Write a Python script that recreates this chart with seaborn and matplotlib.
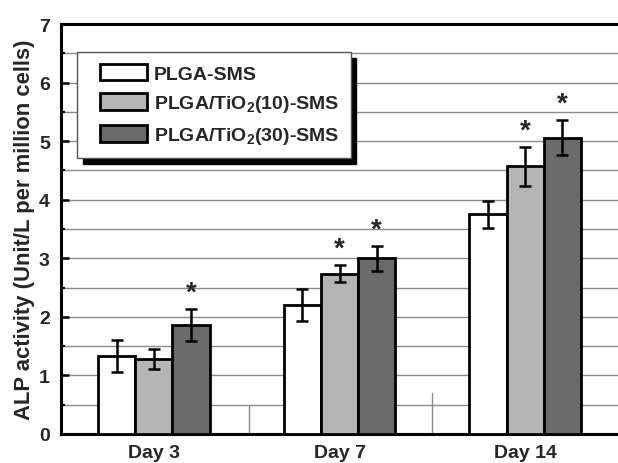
import matplotlib
matplotlib.use("Agg")
import matplotlib.pyplot as plt
import seaborn as sns
import pandas as pd
import numpy as np
from matplotlib.ticker import MultipleLocator
from matplotlib.legend_handler import HandlerPatch
from matplotlib.patches import Rectangle

days = ["Day 3", "Day 7", "Day 14"]
groups = ["PLGA-SMS", "PLGA/TiO$_2$(10)-SMS", "PLGA/TiO$_2$(30)-SMS"]
plga = [1.33, 2.20, 3.75]
tio10 = [1.28, 2.74, 4.57]
tio30 = [1.86, 3.00, 5.06]
plga_err = [0.27, 0.27, 0.23]
tio10_err = [0.17, 0.15, 0.33]
tio30_err = [0.28, 0.21, 0.30]
star_plga = [False, False, False]
star_tio10 = [False, True, True]
star_tio30 = [True, True, True]
colors = ["#ffffff", "#b5b5b5", "#6b6b6b"]

sns.set_theme(style="white")
plt.rcParams["font.family"] = ["Liberation Sans", "DejaVu Sans"]
plt.rcParams["font.weight"] = "bold"
plt.rcParams["mathtext.fontset"] = "custom"
plt.rcParams["mathtext.rm"] = "Liberation Sans:bold"
plt.rcParams["mathtext.it"] = "Liberation Sans:bold"
plt.rcParams["mathtext.bf"] = "Liberation Sans:bold"
plt.rcParams["mathtext.default"] = "rm"

rows = []
vals = [plga, tio10, tio30]
errs = [plga_err, tio10_err, tio30_err]
stars = [star_plga, star_tio10, star_tio30]
for g, v in zip(groups, vals):
    for d, x in zip(days, v):
        rows.append({"day": d, "group": g, "value": x})
df = pd.DataFrame(rows)

fig = plt.figure(figsize=(6.18, 4.64), dpi=100)
ax = fig.add_axes([61/618, 29/464, 1 - 61/618, 410/464])

sns.barplot(data=df, x="day", y="value", hue="group", order=days, hue_order=groups,
            palette=colors, errorbar=None, width=0.6, edgecolor="black",
            linewidth=2, saturation=1, ax=ax, zorder=3)

bars = [p for p in ax.patches if p.get_height() > 0][:9]
for gi in range(3):
    for di in range(3):
        p = bars[gi * 3 + di]
        cx = p.get_x() + p.get_width() / 2
        h = p.get_height()
        e = errs[gi][di]
        ax.errorbar(cx, h, yerr=e, fmt="none", ecolor="black", elinewidth=1.8,
                    capsize=4, capthick=1.8, zorder=4)
        if stars[gi][di]:
            ax.text(cx, h + e + 0.28, "*", ha="center", va="center",
                    fontsize=20, fontweight="bold", zorder=5)

ax.set_xlim(-0.5, 2.5)
ax.set_ylim(0, 7)
ax.yaxis.set_major_locator(MultipleLocator(1))
ax.yaxis.set_minor_locator(MultipleLocator(0.5))
ax.grid(axis="y", which="both", color="#8a8a8a", linewidth=1.0, zorder=0)
ax.set_axisbelow(True)
ax.axvline(0.51, ymin=0, ymax=0.5/7, color="#8a8a8a", linewidth=1.0, zorder=1)
ax.axvline(1.5, ymin=0, ymax=0.7/7, color="#8a8a8a", linewidth=1.0, zorder=1)

for s in ["left", "bottom", "top"]:
    ax.spines[s].set_visible(True)
    ax.spines[s].set_color("black")
    ax.spines[s].set_linewidth(2.2)
ax.spines["right"].set_visible(False)

ax.tick_params(axis="y", which="major", direction="in", length=6, width=1.8,
               color="black", left=True, labelsize=14, pad=8)
ax.tick_params(axis="y", which="minor", direction="in", length=3, width=1.5,
               color="black", left=True)
ax.tick_params(axis="x", bottom=False, labelsize=14, pad=1)
for lab in ax.get_xticklabels() + ax.get_yticklabels():
    lab.set_fontweight("bold")
ax.set_xlabel("")
ax.set_ylabel("ALP activity (Unit/L per million cells)", fontsize=15.8,
              fontweight="bold", labelpad=3)


def shifted_rect(legend, orig_handle, xdescent, ydescent, width, height, fontsize):
    w = 2.42 * fontsize
    return Rectangle((-xdescent + width - w, -ydescent), w, height)


handles, labels = ax.get_legend_handles_labels()
leg = ax.legend(handles, labels, loc="upper left", bbox_to_anchor=(0.029, 0.932),
                frameon=True, fancybox=False, edgecolor="#555555",
                framealpha=1, prop={"weight": "bold", "size": 14},
                handlelength=3.0, handleheight=0.95, handletextpad=0.35,
                labelspacing=0.55, borderpad=0.6, borderaxespad=0,
                handler_map={h: HandlerPatch(patch_func=shifted_rect) for h in handles},
                shadow={"ox": 4, "oy": -4.5, "color": "black", "alpha": 1})
leg.get_frame().set_linewidth(1.0)
leg.set_zorder(10)
for h in leg.legend_handles:
    h.set_edgecolor("black")
    h.set_linewidth(2)

fig.savefig("out.png", dpi=100)
